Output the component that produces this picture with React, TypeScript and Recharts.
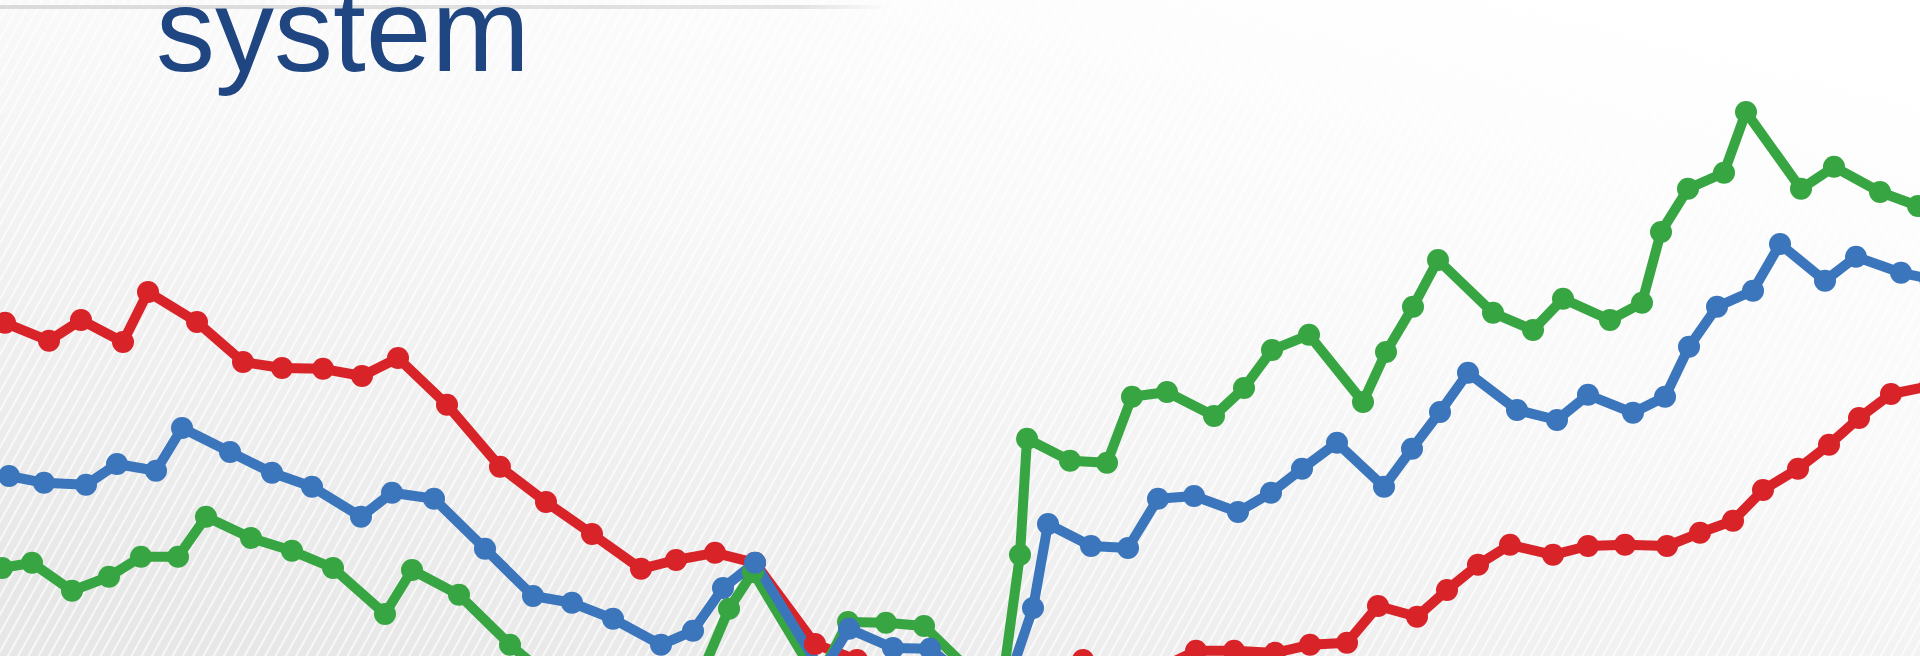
import React from 'react';
import { LineChart, Line, XAxis, YAxis } from 'recharts';

const WIDTH = 1920;
const HEIGHT = 656;

const TITLE = 'system';

// horizontal position (time) and value for each series
const redT = [0.5, 4.9, 8.1, 12.3, 14.8, 19.7, 24.3, 28.2, 32.3, 36.2, 39.8, 44.7, 50.0, 54.6, 59.2, 64.1, 67.6, 71.5, 75.5, 81.5, 85.7, 93.0, 103.0, 108.3, 114.0, 119.6, 123.4, 127.5, 131.0, 134.7, 137.8, 141.7, 144.7, 147.8, 151.0, 155.3, 158.8, 162.5, 166.7, 170.0, 173.3, 176.3, 179.8, 182.9, 185.9, 189.1, 193.0];
const redV = [83.3, 78.8, 84.0, 78.5, 91.0, 83.5, 73.5, 72.0, 71.8, 70.0, 74.5, 62.8, 47.3, 38.5, 30.5, 21.8, 24.0, 25.8, 23.3, 3.0, -1.0, -8.5, -7.3, -1.0, -5.5, 1.3, 1.3, 0.8, 2.8, 3.3, 12.5, 9.8, 16.5, 22.8, 27.8, 25.3, 27.5, 27.8, 27.5, 30.8, 33.8, 41.5, 46.8, 52.8, 59.5, 65.5, 67.5];

const blueT = [0.9, 4.4, 8.6, 11.7, 15.6, 18.2, 23.0, 27.2, 31.2, 36.1, 39.2, 43.4, 48.5, 53.3, 57.2, 61.3, 66.1, 69.3, 72.3, 75.5, 82.2, 84.9, 89.3, 93.0, 100.0, 103.3, 104.8, 109.1, 112.8, 115.8, 119.4, 123.8, 127.1, 130.2, 133.7, 138.4, 141.2, 144.0, 146.8, 151.7, 155.7, 158.8, 163.3, 166.5, 168.9, 171.7, 175.3, 178.0, 182.5, 185.6, 190.1, 193.0];
const blueV = [45.0, 43.3, 42.8, 48.0, 46.3, 57.0, 51.0, 45.8, 42.3, 34.8, 40.8, 39.3, 26.8, 15.0, 13.3, 9.3, 2.8, 6.3, 17.0, 23.3, -4.0, 6.8, 2.0, 1.8, -12.3, 12.0, 33.0, 27.5, 27.0, 39.3, 40.0, 36.0, 40.8, 46.8, 53.3, 42.3, 51.8, 61.0, 70.8, 61.5, 59.0, 65.3, 60.8, 64.8, 77.3, 87.3, 91.3, 103.0, 93.8, 99.8, 95.8, 94.3];

const greenT = [0.2, 3.2, 7.2, 10.9, 14.1, 17.8, 20.6, 25.1, 29.2, 33.3, 38.5, 41.2, 45.9, 51.0, 57.0, 69.0, 72.9, 75.3, 81.8, 84.8, 88.6, 92.4, 100.0, 102.0, 102.7, 107.0, 110.7, 113.2, 116.7, 121.4, 124.4, 127.2, 130.9, 136.3, 138.6, 141.3, 143.8, 149.3, 153.3, 156.3, 161.0, 164.2, 166.1, 168.8, 172.4, 174.6, 180.1, 183.4, 188.0, 191.8, 194.0];
const greenV = [22.0, 23.3, 16.3, 19.8, 24.8, 24.8, 34.8, 29.5, 26.3, 22.0, 10.5, 21.5, 15.3, 2.8, -9.8, -11.0, 11.8, 21.0, -6.0, 8.5, 8.3, 7.5, -11.0, 25.3, 54.3, 48.8, 48.3, 64.8, 66.0, 60.0, 67.0, 76.5, 80.3, 63.5, 76.0, 87.3, 99.0, 85.8, 81.5, 89.3, 84.0, 88.3, 106.0, 116.8, 120.8, 136.0, 116.8, 122.3, 116.0, 112.5, 110.5];

const X_DOMAIN = [0, 192];
const Y_DOMAIN = [0, 164];

const toRows = (ts: number[], vs: number[]) => ts.map((t, i) => ({ t, v: vs[i] }));

const series = [
  { name: 'red', color: '#d82329', data: toRows(redT, redV) },
  { name: 'green', color: '#38a543', data: toRows(greenT, greenV) },
  { name: 'blue', color: '#3b75bb', data: toRows(blueT, blueV) },
];

function Backdrop() {
  return (
    <svg width={WIDTH} height={HEIGHT} style={{ position: 'absolute', left: 0, top: 0 }}>
      <defs>
        <linearGradient id="bg" x1="0.85" y1="0" x2="0.15" y2="1">
          <stop offset="0" stopColor="#ffffff" />
          <stop offset="0.4" stopColor="#f9f9f9" />
          <stop offset="1" stopColor="#e8e7e8" />
        </linearGradient>
        <pattern id="hatch" width="9" height="9" patternUnits="userSpaceOnUse" patternTransform="rotate(29)">
          <rect x="0" y="0" width="1.8" height="9" fill="#ffffff" opacity="0.75" />
        </pattern>
        <linearGradient id="rule" x1="0" y1="0" x2="1" y2="0">
          <stop offset="0" stopColor="#dadada" />
          <stop offset="0.9" stopColor="#e2e2e2" />
          <stop offset="1" stopColor="#e2e2e2" stopOpacity="0" />
        </linearGradient>
      </defs>
      <rect x={0} y={0} width={WIDTH} height={HEIGHT} fill="url(#bg)" />
      <rect x={0} y={0} width={WIDTH} height={HEIGHT} fill="url(#hatch)" />
      <rect x={0} y={5} width={890} height={4} fill="url(#rule)" />
      <text
        x={156}
        y={71}
        fontFamily="'Liberation Sans', Arial, sans-serif"
        fontSize={118}
        fill="#1f4680"
      >
        {TITLE}
      </text>
    </svg>
  );
}

export default function App() {
  return (
    <div style={{ position: 'absolute', left: 0, top: 0, width: WIDTH, height: HEIGHT, overflow: 'hidden' }}>
      <Backdrop />
      <div style={{ position: 'absolute', left: 0, top: 0 }}>
        <LineChart width={WIDTH} height={HEIGHT} margin={{ top: 0, right: 0, bottom: 0, left: 0 }}>
          <XAxis dataKey="t" type="number" domain={X_DOMAIN} allowDataOverflow hide />
          <YAxis type="number" domain={Y_DOMAIN} allowDataOverflow hide />
          {series.map(s => (
            <Line
              key={s.name}
              data={s.data}
              dataKey="v"
              type="linear"
              stroke={s.color}
              strokeWidth={10}
              strokeLinejoin="round"
              dot={{ r: 11, fill: s.color, stroke: 'none' }}
              activeDot={false}
              isAnimationActive={false}
            />
          ))}
        </LineChart>
      </div>
    </div>
  );
}
